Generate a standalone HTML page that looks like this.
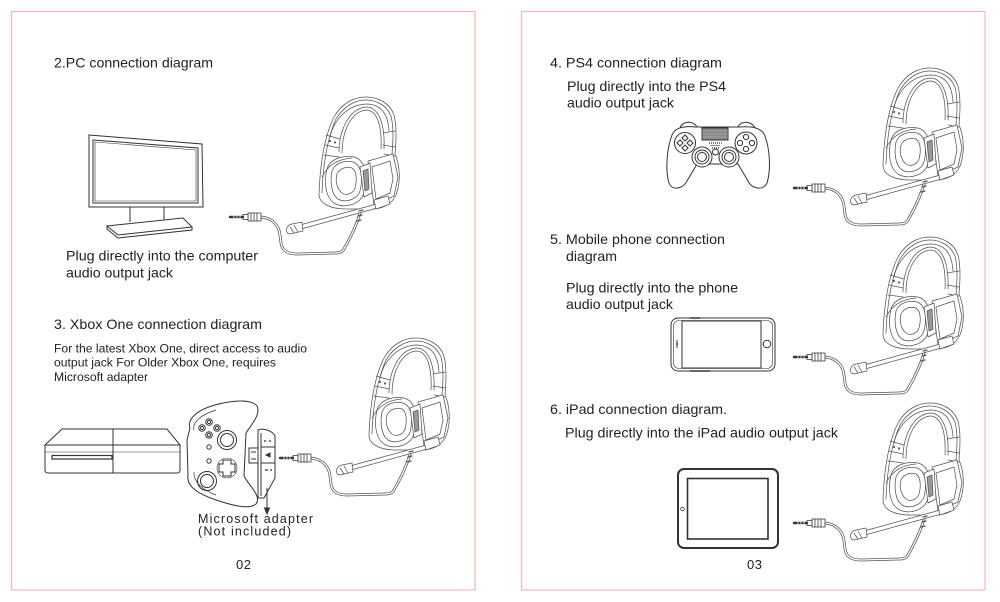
<!DOCTYPE html>
<html><head><meta charset="utf-8"><style>
html,body{margin:0;padding:0;background:#fff;}
svg{display:block;}
text{font-family:"Liberation Sans",Arial,sans-serif;fill:#222;}
</style></head><body>
<svg width="1000" height="602" viewBox="0 0 1000 602" xmlns="http://www.w3.org/2000/svg">
<defs>
<g id="hs" fill="none" stroke="#555" stroke-width="0.75" stroke-linejoin="round" stroke-linecap="round">
  <!-- cable -->
  <path d="M 0 116 C -4 130 -12 145 -15 150 C -17 155 -20 156 -25 156 L -63 157 C -72 157 -78 154 -79 146 L -80 138 C -81 128 -88 121 -99 120" stroke="#555" stroke-width="2.8"/>
  <path d="M 0 116 C -4 130 -12 145 -15 150 C -17 155 -20 156 -25 156 L -63 157 C -72 157 -78 154 -79 146 L -80 138 C -81 128 -88 121 -99 120" stroke="#fff" stroke-width="1.3"/>
  <!-- jack -->
  <rect x="-112" y="116" width="13" height="8" fill="#fff" stroke="#333"/>
  <path d="M -109 116 V124 M -106 116 V124 M -103 116 V124" stroke="#333"/>
  <rect x="-117" y="117.5" width="5" height="5" fill="#fff" stroke="#333"/>
  <path d="M -130 120 H -117" stroke="#333" stroke-width="2.4"/>
  <path d="M -126 118.5 V121.5 M -123 118.5 V121.5 M -120 118.5 V121.5" stroke="#fff" stroke-width="0.8"/>
  <g transform="translate(6,0)">
  <!-- shell -->
  <path d="M -47 97 C -46 70 -42 40 -32 20 C -24 6 -12 0 0 0 C 12 0 24 6 28 18 C 31 30 30 45 29 57 C 34 68 35 85 30 98 C 26 106 20 111 8 112 L -20 112 C -35 112 -47 107 -47 97 Z" fill="#fff"/>
  <path d="M -44 96 C -43 70 -39 42 -30 22 C -22 9 -11 3 0 3 C 11 3 21 9 25 19 C 28 31 27 45 26 57"/>
  <path d="M -27 55 C -27 35 -18 12 0 10 C 14 10 19 30 18 52"/>
  <path d="M -24 56 C -24 36 -16 15 0 13 C 12 13 16 31 15 52"/>
  <path d="M -36 40 C -33 25 -20 8 0 7 C 14 7 22 16 23 34"/>
  <path d="M -40 38 L -26 42 M -41 48 L -27 51 M -42 58 L -27 60 M 17 36 L 29 34 M 17 48 L 29 50 M 18 57 L 29 59"/>
  <circle cx="-36" cy="44" r="0.7" fill="#555"/><circle cx="-31" cy="45.5" r="0.7" fill="#555"/>
  <!-- earpad -->
  <path d="M -39 72 C -36 62 -24 58 -12 60 C 0 63 2 80 -2 96 C -6 108 -22 112 -32 106 C -41 100 -42 84 -39 72 Z"/>
  <path d="M -34 74 C -31 66 -22 63 -13 65 C -4 68 -3 82 -6 94 C -9 103 -21 106 -28 102 C -35 97 -36 84 -34 74 Z"/>
  <path d="M -29 77 C -26 71 -19 69 -14 71 C -9 74 -9 84 -11 91 C -13 97 -20 99 -24 96 C -29 92 -31 84 -29 77 Z"/>
  <path d="M -44 80 C -38 68 -28 62 -14 61"/>
  <!-- right plate -->
  <path d="M 2 64 L 27 57 L 32 80 L 28 99 L 8 108 Z" fill="#fff"/>
  <path d="M 6 70 L 24 64 L 27 82 L 24 96 L 10 102 Z"/>
  <path d="M -6 70 L 4 66 L 6 96 L -2 100 Z" fill="#fff"/>
  <path d="M -3 74 L 2 72 L 3 92 L -1 94 Z" fill="#999"/>
  </g>
  <!-- boom -->
  <path d="M 20 106 L -60 128 L -59 132 L 21 110 Z" fill="#fff"/>
  <path d="M 14 103 L 28 99 L 30 107 L 16 112 Z" fill="#fff"/>
  <path d="M -58 125 L -68 127 C -74 128 -76 136 -70 137 L -57 134 Z" fill="#fff"/>
  <path d="M -66 128 L -62 135 M -70 130 L -66 136"/>
  <path d="M -1 114 L 3 113 M -2 119 L 2 118 M -3 124 L 1 123" stroke-width="1.2"/>
</g>
</defs>

<!-- page borders -->
<rect x="11.5" y="11.5" width="463.5" height="578.5" fill="none" stroke="#f0b9b9" stroke-width="1.2"/>
<rect x="521.5" y="11.5" width="463.5" height="578.5" fill="none" stroke="#f0b9b9" stroke-width="1.2"/>

<!-- ===== LEFT PAGE ===== -->
<text x="54" y="67.5" font-size="14" textLength="159" lengthAdjust="spacingAndGlyphs">2.PC connection diagram</text>

<!-- monitor -->
<g fill="none" stroke="#333" stroke-width="1">
  <path d="M 89 135 L 202 144 L 203 207 L 89 207 Z" fill="#fff"/>
  <path d="M 93 140 L 198 148 L 198 203 L 93 203 Z"/>
  <path d="M 95 142 L 196 150 L 196 201 L 95 201 Z" stroke-width="0.6"/>
  <path d="M 130 207 V 222 M 164 207 V 220"/>
  <path d="M 107 226 L 183 218 L 192 227 L 118 235 Z" fill="#fff"/>
  <path d="M 107 226 L 107 229 L 118 238 L 192 230 L 192 227"/>
</g>
<text x="66" y="260.7" font-size="14" textLength="192" lengthAdjust="spacingAndGlyphs">Plug directly into the computer</text>
<text x="66" y="277.3" font-size="14" textLength="107" lengthAdjust="spacingAndGlyphs">audio output jack</text>

<use href="#hs" x="360" y="97"/>

<text x="54" y="329" font-size="14" textLength="208" lengthAdjust="spacingAndGlyphs">3. Xbox One connection diagram</text>
<text x="54" y="352.3" font-size="12.4" textLength="253" lengthAdjust="spacingAndGlyphs">For the latest Xbox One, direct access to audio</text>
<text x="54" y="366.7" font-size="12.4" textLength="222" lengthAdjust="spacingAndGlyphs">output jack For Older Xbox One, requires</text>
<text x="54" y="381" font-size="12.4" textLength="94" lengthAdjust="spacingAndGlyphs">Microsoft adapter</text>

<!-- xbox console -->
<g fill="none" stroke="#333" stroke-width="1">
  <path d="M 62 429 L 167 429 L 180 445 L 45 445 Z" fill="#fff"/>
  <path d="M 45 445 L 180 445 L 180 470 Q 180 473 177 473 L 48 473 Q 45 473 45 470 Z" fill="#fff"/>
  <path d="M 113 429 V 473"/>
  <path d="M 45 452 H 180" stroke-width="0.6"/>
  <rect x="52" y="455.5" width="60" height="3.5" stroke-width="1.2"/>
</g>

<!-- xbox controller -->
<g fill="none" stroke="#333" stroke-width="1">
  <path d="M 190 428 C 187 419 197 410 215 405 C 233 400 252 399 257 406 C 261 414 252 424 246 433 L 244 476 C 249 486 262 496 256 504 C 249 510 231 505 216 500 C 199 494 186 487 188 475 L 187 440 Z" fill="#fff"/>
  <path d="M 194 430 C 192 423 200 415 216 410" stroke-width="0.7"/>
  <path d="M 194 472 C 193 482 203 490 216 495" stroke-width="0.7"/>
  <circle cx="202" cy="428" r="3.3"/><circle cx="209" cy="422" r="3.3"/><circle cx="217" cy="428" r="3.3"/><circle cx="209" cy="435" r="3.3"/>
  <circle cx="202" cy="428" r="1.6"/><circle cx="209" cy="422" r="1.6"/><circle cx="217" cy="428" r="1.6"/><circle cx="209" cy="435" r="1.6"/>
  <circle cx="209" cy="447" r="2.2"/><circle cx="209" cy="461" r="2.2"/>
  <circle cx="227" cy="440" r="9.5"/><circle cx="227" cy="440" r="6.5"/>
  <circle cx="207" cy="481" r="9.5"/><circle cx="207" cy="481" r="6.5"/>
  <path d="M 223 460 H 231 V 464 H 235 V 472 H 231 V 476 H 223 V 472 H 219 V 464 H 223 Z"/>
  <circle cx="227" cy="468" r="10" stroke-width="0.6"/>
  <!-- adapter -->
  <rect x="249" y="448" width="9" height="15" fill="#fff"/>
  <path d="M 251 452 H 256 M 251 459 H 256"/>
  <path d="M 258 430 C 262 428 272 430 275 436 L 275 478 L 264 498 L 258 498 Z" fill="#fff"/>
  <path d="M 261 433 L 261 496 M 261 447 H 275 M 261 463 H 275"/>
  <path d="M 265 440 V 442 M 270 440 V 442 M 265 470 H 268 M 270 470 H 272" stroke-width="1.3"/>
  <path d="M 266 455 L 270 453 L 270 457 Z" fill="#333"/>
  <path d="M 267 488 V 511"/>
  <path d="M 264.5 508 L 267 514 L 269.5 508 Z" fill="#333"/>
</g>
<text x="198" y="523" font-size="12.5" textLength="115" lengthAdjust="spacing">Microsoft adapter</text>
<text x="198" y="535.5" font-size="12.5" textLength="93" lengthAdjust="spacing">(Not included)</text>

<use href="#hs" x="410" y="338"/>

<text x="236" y="569" font-size="13" textLength="15" lengthAdjust="spacing">02</text>

<!-- ===== RIGHT PAGE ===== -->
<text x="550" y="67.5" font-size="14" textLength="172" lengthAdjust="spacingAndGlyphs">4. PS4 connection diagram</text>
<text x="567" y="91" font-size="14" textLength="159" lengthAdjust="spacingAndGlyphs">Plug directly into the PS4</text>
<text x="567" y="107.5" font-size="14" textLength="107" lengthAdjust="spacingAndGlyphs">audio output jack</text>

<!-- PS4 controller -->
<g fill="none" stroke="#333" stroke-width="1">
  <path d="M 680 128 C 682 121 693 120 697 127 M 738 127 C 741 120 752 121 755 128"/>
  <path d="M 672 135 C 675 127 685 126 695 127 L 740 127 C 752 126 762 128 765 136 C 770 150 771 170 767 183 C 763 191 752 189 748 181 L 738 164 L 697 164 L 687 181 C 683 189 672 191 669 183 C 665 170 667 148 672 135 Z" fill="#fff"/>
  <rect x="702" y="128" width="26" height="12" fill="#888"/>
  <path d="M 702 131 H 728 M 702 134 H 728 M 702 137 H 728" stroke="#bbb" stroke-width="0.6"/>
  <circle cx="685" cy="143" r="10.5"/>
  <path d="M 685 135 L 688 138 L 685 141 L 682 138 Z M 685 145 L 688 148 L 685 151 L 682 148 Z M 677 143 L 680 140 L 683 143 L 680 146 Z M 687 143 L 690 140 L 693 143 L 690 146 Z"/>
  <circle cx="746" cy="143" r="11"/>
  <circle cx="746" cy="137" r="2.6"/><circle cx="746" cy="149" r="2.6"/><circle cx="740" cy="143" r="2.6"/><circle cx="752" cy="143" r="2.6"/>
  <circle cx="702" cy="157" r="10" fill="#fff"/><circle cx="702" cy="157" r="7"/><circle cx="702" cy="157" r="4.5"/>
  <circle cx="729" cy="157" r="10" fill="#fff"/><circle cx="729" cy="157" r="7"/><circle cx="729" cy="157" r="4.5"/>
  <circle cx="715.5" cy="152" r="3"/>
  <path d="M 709 143 H 722 M 710.5 145.5 H 720.5 M 712 148 H 719" stroke-dasharray="1 1" stroke-width="1.2"/>
</g>
<use href="#hs" x="924" y="68"/>

<text x="550" y="244" font-size="14" textLength="175" lengthAdjust="spacingAndGlyphs">5. Mobile phone connection</text>
<text x="566" y="261" font-size="14" textLength="51" lengthAdjust="spacingAndGlyphs">diagram</text>
<text x="566" y="292.3" font-size="14" textLength="172" lengthAdjust="spacingAndGlyphs">Plug directly into the phone</text>
<text x="566" y="309" font-size="14" textLength="107" lengthAdjust="spacingAndGlyphs">audio output jack</text>

<!-- phone -->
<g fill="none" stroke="#333" stroke-width="1">
  <rect x="671" y="318" width="104" height="53" rx="7" fill="#fff"/>
  <rect x="673.5" y="320.5" width="99" height="48" rx="5.5" stroke-width="0.6"/>
  <rect x="682" y="321" width="79" height="47"/>
  <circle cx="767" cy="344" r="3.8"/>
  <path d="M 677 340 V 348 M 676 344 H 678"/>
  <path d="M 690 318 H 700 M 690 371 H 710" stroke-width="1.4"/>
</g>
<use href="#hs" x="924" y="237"/>

<text x="550" y="414" font-size="14" textLength="177" lengthAdjust="spacingAndGlyphs">6. iPad connection diagram.</text>
<text x="565" y="437.3" font-size="14" textLength="273" lengthAdjust="spacingAndGlyphs">Plug directly into the iPad audio output jack</text>

<!-- iPad -->
<g fill="none" stroke="#333">
  <rect x="678" y="469" width="100" height="79" rx="6" fill="#fff" stroke-width="2"/>
  <rect x="687.5" y="478.5" width="80.5" height="60.5" stroke-width="1.6"/>
  <circle cx="682.5" cy="509" r="1.8" stroke-width="0.8"/>
</g>
<use href="#hs" x="924" y="403"/>

<text x="747" y="569" font-size="13" textLength="15" lengthAdjust="spacing">03</text>
</svg>
</body></html>
